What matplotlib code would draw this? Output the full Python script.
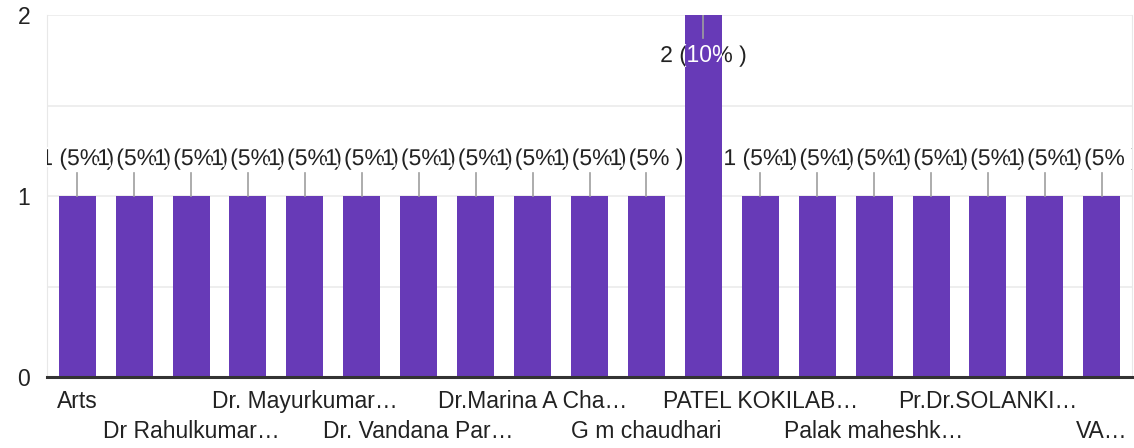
import numpy as np
import matplotlib
matplotlib.use("Agg")
import matplotlib.pyplot as plt
import matplotlib.patheffects as pe
import matplotlib.transforms as mtransforms

plt.rcParams['font.family'] = ['Liberation Sans', 'DejaVu Sans']

# responses per answer (20 responses in total)
counts = [1, 1, 1, 1, 1, 1, 1, 1, 1, 1, 1, 2, 1, 1, 1, 1, 1, 1, 1]
# only every other category name fits under the axis
tick_labels = ["Arts", "", "Dr Rahulkumar…", "", "Dr. Mayurkumar…", "",
               "Dr. Vandana Par…", "", "Dr.Marina A Cha…", "", "G m chaudhari", "",
               "PATEL KOKILAB…", "", "Palak maheshk…", "", "Pr.Dr.SOLANKI…", "",
               "VA…"]
yticks = [0, 1, 2]

purple = '#673ab7'
text_col = '#222222'
fs = 16.5

counts = np.array(counts)
x = np.arange(len(counts))
total = counts.sum()

fig = plt.figure(figsize=(11.34, 4.48), dpi=100)
ax = fig.add_axes([47 / 1134, 1 - 377 / 448, 1085 / 1134, 362 / 448])

ax.set_xlim(-0.53, len(counts) - 0.47)
ax.set_ylim(0, 2)

# grid every half unit
for g in np.arange(0.5, 2.01, 0.5):
    ax.axhline(g, color='#ebebeb', lw=1.2, zorder=0)

bars = ax.bar(x, counts, width=0.65, color=purple, zorder=2)

halo = [pe.withStroke(linewidth=3, foreground='white')]
ymax = counts.max()
for i, (xi, c) in enumerate(zip(x, counts)):
    label = f"{c} ({c / total * 100:.0f}% )"
    if c < ymax:
        # leader line above the bar, label above that
        ax.plot([xi, xi], [c, c + 0.127], color='#9e9e9e', lw=1.2, zorder=3)
        ax.text(xi, c + 0.171, label, ha='center', va='baseline', fontsize=fs,
                color=text_col, path_effects=halo, zorder=4, clip_on=True)
    else:
        # tallest bar: label sits inside the bar, white where it overlaps
        ax.plot([xi, xi], [c, c - 0.127], color='#9e9e9e', lw=1.2, zorder=3)
        ax.text(xi, c - 0.26, label, ha='center', va='baseline', fontsize=fs,
                color=text_col, path_effects=halo, zorder=1.5, clip_on=True)
        t = ax.text(xi, c - 0.26, label, ha='center', va='baseline', fontsize=fs,
                    color='white', zorder=3.5, clip_on=True)
        t.set_clip_path(bars[i])

ax.set_yticks(yticks)
ax.set_yticklabels([str(v) for v in yticks], fontsize=fs, color=text_col)
ax.tick_params(axis='y', length=0, pad=12)
ax.set_xticks([])

# category names in two staggered rows
trans = mtransforms.blended_transform_factory(ax.transData, ax.transAxes)
for i, name in enumerate(tick_labels):
    if not name:
        continue
    row = (i // 2) % 2
    ypos = -31 / 362 if row == 0 else -61 / 362
    ax.text(x[i], ypos, name, transform=trans, ha='center', va='baseline',
            fontsize=fs, color=text_col)

ax.spines['top'].set_visible(False)
ax.spines['left'].set_color('#e8e8e8')
ax.spines['right'].set_color('#e8e8e8')
ax.spines['bottom'].set_color('#333333')
ax.spines['bottom'].set_linewidth(2.2)
ax.spines['bottom'].set_zorder(5)

fig.savefig('out.png', dpi=100)
